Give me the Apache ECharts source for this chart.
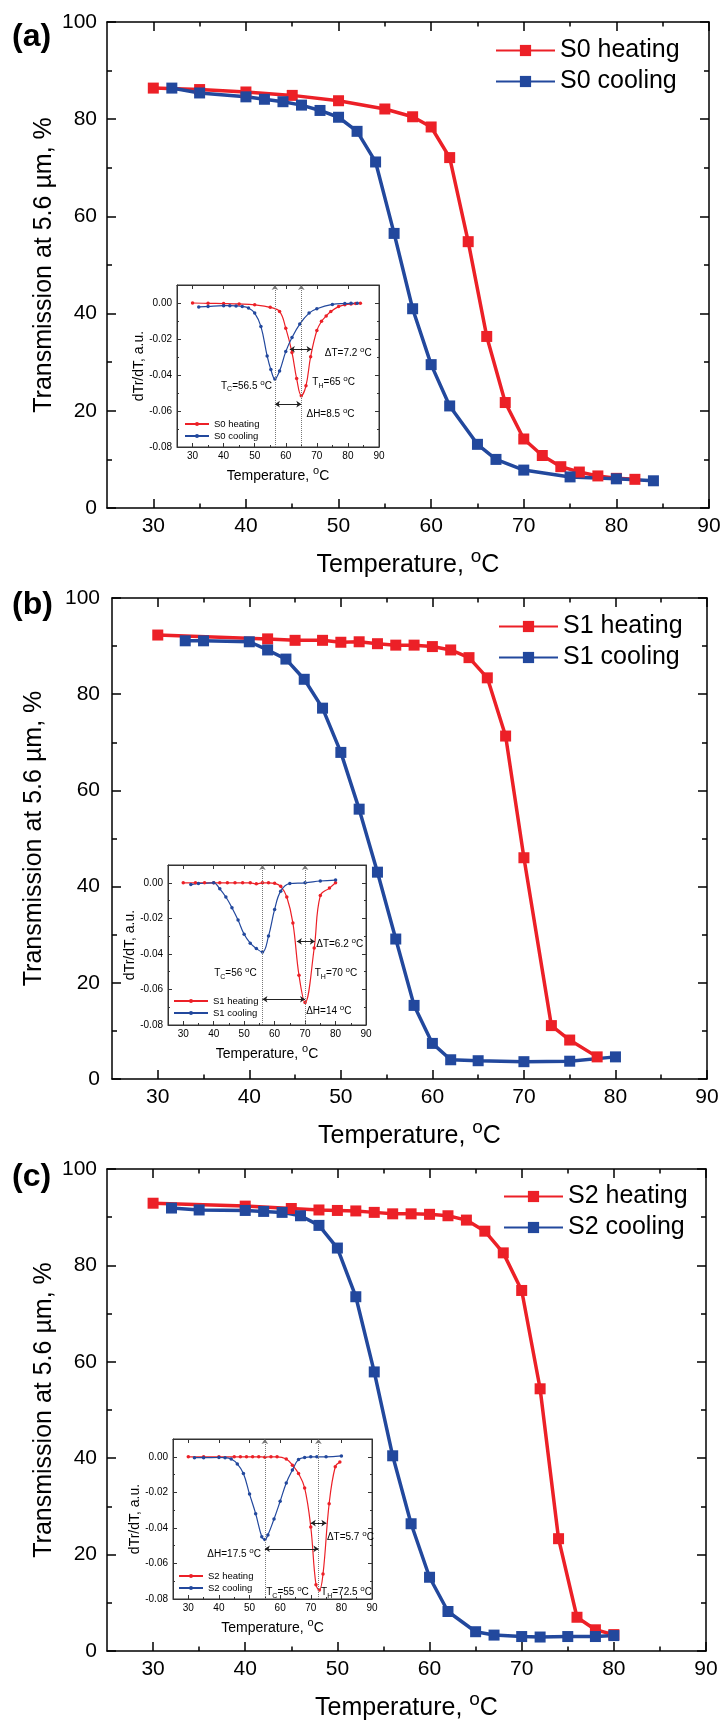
<!DOCTYPE html>
<html>
<head>
<meta charset="utf-8">
<title>Transmission at 5.6 um vs temperature</title>
<script src="https://cdn.jsdelivr.net/npm/echarts@6/dist/echarts.min.js"></script>
<style>
  html, body { margin: 0; padding: 0; background: #fff; }
  #chart { width: 723px; height: 1724px; }
</style>
</head>
<body>
<div id="chart"></div>
<script>
// ---- main curves, transmission in % ----
const tempS0Heat = [30, 35, 40, 45, 50, 55, 58, 60, 62, 64, 66, 68, 70, 72, 74, 76, 78, 80, 82]
const transS0Heat = [86.4, 86.1, 85.6, 84.9, 83.8, 82.1, 80.5, 78.4, 72.1, 54.8, 35.3, 21.7, 14.2, 10.8, 8.5, 7.4, 6.6, 6.1, 5.9]
const tempS0Cool = [32, 35, 40, 42, 44, 46, 48, 50, 52, 54, 56, 58, 60, 62, 65, 67, 70, 75, 80, 84]
const transS0Cool = [86.4, 85.4, 84.6, 84.1, 83.6, 82.9, 81.8, 80.4, 77.5, 71.2, 56.5, 41.0, 29.5, 21.0, 13.1, 10.0, 7.8, 6.4, 6.0, 5.6]

const tempS1Heat = [30, 42, 45, 48, 50, 52, 54, 56, 58, 60, 62, 64, 66, 68, 70, 73, 75, 78]
const transS1Heat = [92.3, 91.5, 91.2, 91.2, 90.8, 90.9, 90.5, 90.2, 90.2, 89.9, 89.2, 87.6, 83.4, 71.3, 46.0, 11.1, 8.1, 4.6]
const tempS1Cool = [33, 35, 40, 42, 44, 46, 48, 50, 52, 54, 56, 58, 60, 62, 65, 70, 75, 80]
const transS1Cool = [91.1, 91.1, 90.9, 89.2, 87.3, 83.1, 77.1, 67.9, 56.1, 43.0, 29.1, 15.3, 7.4, 4.0, 3.8, 3.6, 3.7, 4.6]

const tempS2Heat = [30, 40, 45, 48, 50, 52, 54, 56, 58, 60, 62, 64, 66, 68, 70, 72, 74, 76, 78, 80]
const transS2Heat = [92.9, 92.3, 91.8, 91.5, 91.4, 91.3, 91.0, 90.7, 90.7, 90.6, 90.3, 89.4, 87.1, 82.6, 74.8, 54.4, 23.3, 7.0, 4.4, 3.4]
const tempS2Cool = [32, 35, 40, 42, 44, 46, 48, 50, 52, 54, 56, 58, 60, 62, 65, 67, 70, 72, 75, 78, 80]
const transS2Cool = [91.9, 91.5, 91.4, 91.2, 91.0, 90.3, 88.3, 83.6, 73.5, 57.9, 40.5, 26.4, 15.3, 8.2, 4.0, 3.3, 3.0, 2.9, 3.0, 3.0, 3.2]

// ---- insets, dTr/dT ----
const dTempS0Heat = [30, 35, 40, 45, 50, 55, 58, 60, 62, 63.5, 65, 66.5, 68, 70, 71.5, 73, 74.5, 77, 79, 81, 82.5, 84]
const dTrS0Heat = [0, -0.0002, -0.0003, -0.0005, -0.0010, -0.0024, -0.0047, -0.0140, -0.0275, -0.0420, -0.0515, -0.0460, -0.0298, -0.0153, -0.0102, -0.0072, -0.0047, -0.0020, -0.0010, -0.0005, -0.0003, -0.0002]
const dTempS0Cool = [32, 35, 40, 42, 44, 46, 48, 50, 52, 54, 55.2, 56.5, 58, 60, 62, 64.5, 67.5, 70, 75, 79, 81, 83]
const dTrS0Cool = [-0.0022, -0.0019, -0.0015, -0.0015, -0.0016, -0.0019, -0.0028, -0.0056, -0.0130, -0.0294, -0.0370, -0.0422, -0.0378, -0.0270, -0.0192, -0.0117, -0.0056, -0.0032, -0.0008, -0.0003, -0.0002, -0.0002]

const dTempS1Heat = [30, 34, 37, 40, 42, 44.5, 47, 49.5, 52, 54, 56, 58, 60, 62, 64, 66, 68, 70, 73, 75, 78, 80]
const dTrS1Heat = [0, 0, 0, 0, 0, 0, 0, 0, 0, -0.0006, 0, 0, -0.0003, -0.0020, -0.0080, -0.0226, -0.0520, -0.0674, -0.0367, -0.0072, -0.0030, 0]
const dTempS1Cool = [32.5, 35, 40, 42, 44, 46, 48, 50, 52, 54, 56, 58, 60, 62, 65, 70, 75, 80]
const dTrS1Cool = [-0.0010, -0.0004, 0, -0.0034, -0.0080, -0.0140, -0.0210, -0.0290, -0.0340, -0.0370, -0.0390, -0.0300, -0.0150, -0.0047, -0.0004, 0, 0.0010, 0.0015]

const dTempS2Heat = [30, 35, 40, 45, 47, 49, 51, 53, 55, 57, 59, 62, 64, 66, 68, 70, 71.7, 72.8, 74, 76, 78, 79.5]
const dTrS2Heat = [0, 0, 0, 0, 0, 0, 0, 0, -0.0002, 0, 0, -0.0013, -0.0047, -0.0094, -0.0175, -0.0395, -0.0720, -0.0750, -0.0660, -0.0264, -0.0056, -0.0030]
const dTempS2Cool = [32, 35, 40, 42, 44, 46, 48, 50, 52, 54, 55, 56, 58, 60, 62, 64, 66, 68, 70, 72, 75, 80]
const dTrS2Cool = [-0.0005, -0.0005, -0.0004, -0.0005, -0.0013, -0.0040, -0.0094, -0.0210, -0.0320, -0.0450, -0.0465, -0.0440, -0.0350, -0.0250, -0.0147, -0.0075, -0.0015, -0.0004, 0, 0, 0, 0.0005]

// ---- tick values ----
const tempTicks = [30, 40, 50, 60, 70, 80, 90]
const tempMinorTicks = [35, 45, 55, 65, 75, 85]
const dTrTicks = [-0.08, -0.06, -0.04, -0.02, 0]
const dTrMinorTicks = [-0.07, -0.05, -0.03, -0.01, 0.01]

// peak temperatures (TC, TH) of each inset
const peakS0 = [56.5, 65]
const peakS1 = [56, 70]
const peakS2 = [55, 72.5]

const FONT = '"Liberation Sans", Arial, sans-serif'
const RED = '#ec2027'
const BLUE = '#22489d'

const pairs = (xs, ys) => xs.map((x, i) => [x, ys[i]])

const panels = [
  {
    tag: '(a)', sample: 'S0', tagTop: 21,
    box: { left: 107, top: 22, width: 602, height: 486 }, yNameGap: 50, yLabelMargin: 10,
    legend: { left: 495, top: 38 },
    heat: pairs(tempS0Heat, transS0Heat), cool: pairs(tempS0Cool, transS0Cool),
    inset: {
      box: { left: 177, top: 285, width: 202, height: 162 },
      legend: { left: 184, top: 419, itemWidth: 24 },
      heat: pairs(dTempS0Heat, dTrS0Heat), cool: pairs(dTempS0Cool, dTrS0Cool),
      peaks: peakS0,
      arrows: [[61.3, 68.3, -0.0257], [56.5, 65, -0.0562]],
      notes: [
        { at: [72.4, -0.0278], side: 'right', text: '\u0394T=7.2 {sup|o}C' },
        { at: [55.7, -0.0461], side: 'left', text: 'T{sub|C}=56.5 {sup|o}C' },
        { at: [68.4, -0.0443], side: 'right', text: 'T{sub|H}=65 {sup|o}C' },
        { at: [66.5, -0.0617], side: 'right', text: '\u0394H=8.5 {sup|o}C' }
      ]
    }
  },
  {
    tag: '(b)', sample: 'S1', tagTop: 589,
    box: { left: 112, top: 598, width: 595, height: 481 }, yNameGap: 65, yLabelMargin: 12,
    legend: { left: 498, top: 614 },
    heat: pairs(tempS1Heat, transS1Heat), cool: pairs(tempS1Cool, transS1Cool),
    inset: {
      box: { left: 168, top: 865, width: 198, height: 160 },
      legend: { left: 173, top: 996, itemWidth: 34 },
      heat: pairs(dTempS1Heat, dTrS1Heat), cool: pairs(dTempS1Cool, dTrS1Cool),
      peaks: peakS1,
      arrows: [[67.3, 73.2, -0.0330], [56, 70, -0.0655]],
      notes: [
        { at: [73.5, -0.0348], side: 'right', text: '\u0394T=6.2 {sup|o}C' },
        { at: [54.3, -0.0508], side: 'left', text: 'T{sub|C}=56 {sup|o}C' },
        { at: [73.0, -0.0508], side: 'right', text: 'T{sub|H}=70 {sup|o}C' },
        { at: [70.2, -0.0725], side: 'right', text: '\u0394H=14 {sup|o}C' }
      ]
    }
  },
  {
    tag: '(c)', sample: 'S2', tagTop: 1161,
    box: { left: 107, top: 1169, width: 599, height: 482 }, yNameGap: 50, yLabelMargin: 10,
    legend: { left: 503, top: 1184 },
    heat: pairs(tempS2Heat, transS2Heat), cool: pairs(tempS2Cool, transS2Cool),
    inset: {
      box: { left: 173, top: 1439, width: 199, height: 160 },
      legend: { left: 178, top: 1571, itemWidth: 24 },
      heat: pairs(dTempS2Heat, dTrS2Heat), cool: pairs(dTempS2Cool, dTrS2Cool),
      peaks: peakS2,
      arrows: [[70, 75.1, -0.0373], [55, 72.5, -0.0518]],
      notes: [
        { at: [75.1, -0.0452], side: 'right', text: '\u0394T=5.7 {sup|o}C' },
        { at: [53.9, -0.0546], side: 'left', text: '\u0394H=17.5 {sup|o}C' },
        { at: [55.3, -0.0762], side: 'right', text: 'T{sub|C}=55 {sup|o}C' },
        { at: [73.2, -0.0762], side: 'right', text: 'T{sub|H}=72.5 {sup|o}C' }
      ]
    }
  }
]

const option = {
  animation: false,
  backgroundColor: '#fff',
  textStyle: { fontFamily: FONT, color: '#000' },
  title: [], legend: [], grid: [], xAxis: [], yAxis: [], series: []
}

// raised "o" of the degree sign and lowered index letters:
// a short token box pinned to the top / bottom of the line moves the glyph
function supRich(size) {
  return {
    sup: { fontSize: Math.round(size * 0.75), height: Math.round(size * 0.3), verticalAlign: 'top', fontFamily: FONT, color: '#000' },
    sub: { fontSize: Math.round(size * 0.7), height: Math.round(size * 0.3), verticalAlign: 'bottom', fontFamily: FONT, color: '#000' }
  }
}

// a temperature axis: labelled major ticks, or an overlay carrying only the minor ticks
function tempAxis(g, position, opts) {
  const axis = {
    type: 'value', gridIndex: g, min: 25, max: 90, position: position,
    axisLine: { show: !opts.minor, onZero: false, lineStyle: { color: opts.color, width: opts.lineWidth } },
    axisTick: {
      show: true, inside: true, length: opts.minor ? opts.tick / 2 : opts.tick,
      customValues: opts.minor ? tempMinorTicks : tempTicks,
      lineStyle: { color: opts.color, width: opts.lineWidth }
    },
    axisLabel: { show: false },
    splitLine: { show: false }
  }
  if (opts.labels) {
    axis.axisLabel = { show: true, customValues: tempTicks, fontSize: opts.fontSize, color: '#000', fontFamily: FONT, margin: opts.margin }
    axis.name = 'Temperature, {sup|o}C'
    axis.nameLocation = 'middle'
    axis.nameGap = opts.nameGap
    axis.nameMoveOverlap = false
    axis.nameTextStyle = { fontSize: opts.nameSize, color: '#000', fontFamily: FONT, rich: supRich(opts.nameSize) }
  }
  return axis
}

// a dTr/dT axis of an inset
function dTrAxis(g, position, minor, labels) {
  return {
    type: 'value', gridIndex: g, min: -0.08, max: 0.01, position: position,
    axisLine: { show: !minor, onZero: false, lineStyle: { color: '#333', width: 1 } },
    axisTick: { inside: true, length: minor ? 2 : 4, customValues: minor ? dTrMinorTicks : dTrTicks, lineStyle: { color: '#333' } },
    axisLabel: labels ? {
      show: true, customValues: dTrTicks, fontSize: 10, color: '#000', fontFamily: FONT, margin: 5,
      formatter: v => v.toFixed(2)
    } : { show: false },
    splitLine: { show: false },
    name: labels ? 'dTr/dT, a.u.' : '',
    nameLocation: 'middle', nameGap: 31, nameMoveOverlap: false,
    nameTextStyle: { fontSize: 14, color: '#000', fontFamily: FONT }
  }
}

function addPanel(p) {
  // main plot
  const g = option.grid.length
  option.grid.push(Object.assign({ show: false, outerBoundsMode: 'none' }, p.box))
  const xi = option.xAxis.length
  const mainX = { tick: 9, lineWidth: 1.5, color: '#000', fontSize: 21, margin: 8, nameGap: 45, nameSize: 25 }
  option.xAxis.push(
    tempAxis(g, 'bottom', Object.assign({ labels: true }, mainX)),
    tempAxis(g, 'bottom', Object.assign({ minor: true }, mainX)),
    tempAxis(g, 'top', mainX),
    tempAxis(g, 'top', Object.assign({ minor: true }, mainX))
  )
  const yi = option.yAxis.length
  const mainY = (position, labels) => ({
    type: 'value', gridIndex: g, min: 0, max: 100, interval: 20, position: position,
    axisLine: { show: true, onZero: false, lineStyle: { color: '#000', width: 1.5 } },
    axisTick: { inside: true, length: 9, lineStyle: { color: '#000', width: 1.5 } },
    minorTick: { show: true, splitNumber: 2, length: 5, lineStyle: { color: '#000', width: 1.5 } },
    axisLabel: { show: labels, fontSize: 21, color: '#000', fontFamily: FONT, margin: p.yLabelMargin },
    splitLine: { show: false },
    name: labels ? 'Transmission at 5.6 \u00b5m, %' : '',
    nameLocation: 'middle', nameGap: p.yNameGap, nameMoveOverlap: false,
    nameTextStyle: { fontSize: 25, color: '#000', fontFamily: FONT }
  })
  option.yAxis.push(mainY('left', true), mainY('right', false))

  const heatName = p.sample + ' heating'
  const coolName = p.sample + ' cooling'
  const mainSeries = (name, data, color) => ({
    name: name, type: 'line', xAxisIndex: xi, yAxisIndex: yi, data: data,
    symbol: 'rect', symbolSize: 11, clip: false,
    lineStyle: { color: color, width: 3.5 }, itemStyle: { color: color }
  })
  option.series.push(mainSeries(heatName, p.heat, RED), mainSeries(coolName, p.cool, BLUE))

  option.legend.push({
    left: p.legend.left, top: p.legend.top, orient: 'vertical', padding: 0,
    itemWidth: 59, itemHeight: 14, itemGap: 6, selectedMode: false,
    data: [heatName, coolName],
    textStyle: { fontSize: 25, color: '#000', fontFamily: FONT }
  })
  option.title.push({
    text: p.tag, left: 12, top: p.tagTop, padding: 0,
    textStyle: { fontSize: 32, fontWeight: 'bold', color: '#000', fontFamily: FONT }
  })

  // inset with the derivative curves
  const ins = p.inset
  const ig = option.grid.length
  option.grid.push(Object.assign({ show: true, borderColor: '#333', borderWidth: 1, backgroundColor: '#fff', outerBoundsMode: 'none' }, ins.box))
  const ixi = option.xAxis.length
  const insX = { tick: 4, lineWidth: 1, color: '#333', fontSize: 10, margin: 4, nameGap: 22, nameSize: 14 }
  option.xAxis.push(
    tempAxis(ig, 'bottom', Object.assign({ labels: true }, insX)),
    tempAxis(ig, 'bottom', Object.assign({ minor: true }, insX)),
    tempAxis(ig, 'top', insX)
  )
  const iyi = option.yAxis.length
  option.yAxis.push(
    dTrAxis(ig, 'left', false, true),
    dTrAxis(ig, 'left', true, false),
    dTrAxis(ig, 'right', false, false),
    dTrAxis(ig, 'right', true, false)
  )

  const guide = { type: 'dotted', color: '#777', width: 1 }
  const arrowLine = { type: 'solid', color: '#222', width: 1 }
  const lines = ins.peaks.map(t => [
    { coord: [t, -0.08], symbol: 'none', lineStyle: guide },
    { coord: [t, 0.01], symbol: 'arrow' }
  ]).concat(ins.arrows.map(a => [
    { coord: [a[0], a[2]], symbol: 'arrow', lineStyle: arrowLine },
    { coord: [a[1], a[2]], symbol: 'arrow' }
  ]))
  const notes = ins.notes.map(n => ({
    coord: n.at, symbol: 'circle', symbolSize: 1, itemStyle: { color: 'rgba(0,0,0,0)' },
    label: {
      show: true, position: n.side, distance: 0, formatter: n.text,
      fontSize: 10, color: '#000', fontFamily: FONT, rich: supRich(10)
    }
  }))
  const insetSeries = (name, data, color) => ({
    name: name + ' (inset)', type: 'line', xAxisIndex: ixi, yAxisIndex: iyi, data: data,
    smooth: 0.4, symbol: 'circle', symbolSize: 3.5, z: 4,
    lineStyle: { color: color, width: 1.2 }, itemStyle: { color: color }
  })
  const ih = insetSeries(heatName, ins.heat, RED)
  ih.markLine = { silent: true, symbolSize: 5, label: { show: false }, data: lines }
  ih.markPoint = { silent: true, data: notes }
  option.series.push(ih, insetSeries(coolName, ins.cool, BLUE))

  option.legend.push({
    left: ins.legend.left, top: ins.legend.top, orient: 'vertical', padding: 0,
    itemWidth: ins.legend.itemWidth, itemHeight: 5, itemGap: 2, selectedMode: false,
    data: [heatName + ' (inset)', coolName + ' (inset)'],
    formatter: n => n.replace(' (inset)', ''),
    textStyle: { fontSize: 9.5, color: '#000', fontFamily: FONT }
  })
}

panels.forEach(addPanel)

const chart = echarts.init(document.getElementById('chart'), null, { renderer: 'canvas' })
chart.setOption(option)
window.addEventListener('resize', () => chart.resize())
</script>
</body>
</html>
